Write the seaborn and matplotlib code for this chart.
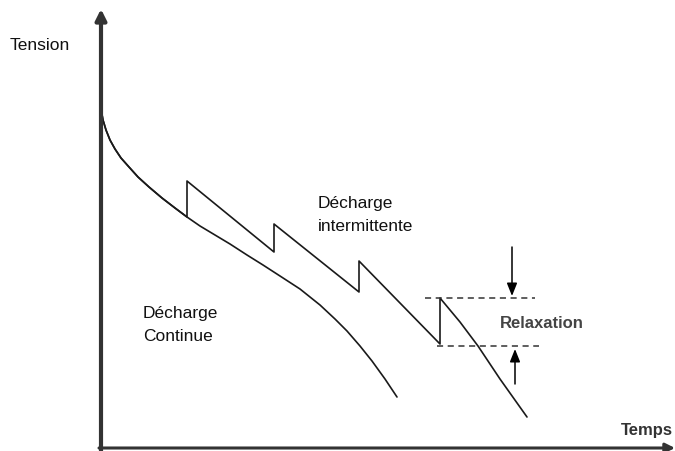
import numpy as np
import pandas as pd
import matplotlib
matplotlib.use("Agg")
import matplotlib.pyplot as plt
import seaborn as sns

# continuous discharge (time, voltage)
cont_t = [0, 2, 5, 9, 14, 20, 28, 37, 48, 61, 74, 86, 99, 114, 129, 146,
          162, 179, 199, 219, 234, 246, 259, 271, 284, 296]
cont_v = [340, 329, 319, 309, 300, 291, 282, 272, 262, 251, 241, 232, 223,
          214, 205, 194, 184, 173, 160, 144, 130, 118, 103, 88, 70, 52]

# intermittent discharge: follows the continuous curve, then saw-tooth
inter_t = [86, 173, 173, 258, 258, 339, 339, 359, 377, 399, 426]
inter_v = [268, 197, 225, 157, 188, 105, 151, 127, 103, 70, 32]

# relaxation guides
relax_levels = [151, 103]
relax_start = [324, 336]
relax_end = [434, 438]

labels = {
    "y": "Tension",
    "x": "Temps",
    "cont": "Décharge\nContinue",
    "inter": "Décharge\nintermittente",
    "relax": "Relaxation",
}

sns.set_theme(style="white")
plt.rcParams["font.family"] = ["Liberation Sans", "DejaVu Sans"]

fig = plt.figure(figsize=(6.75, 4.52), dpi=100)
ax = fig.add_axes([0, 0, 1, 1])
ax.set_xlim(-101, 574)
ax.set_ylim(-2, 450)
ax.axis("off")

n_common = cont_t.index(86) + 1
df_cont = pd.DataFrame({"t": cont_t, "v": cont_v})
df_inter = pd.DataFrame({"t": cont_t[:n_common] + inter_t,
                         "v": cont_v[:n_common] + inter_v})
sns.lineplot(data=df_cont, x="t", y="v", sort=False, estimator=None,
             color="#1a1a1a", lw=1.2, ax=ax)
sns.lineplot(data=df_inter, x="t", y="v", sort=False, estimator=None,
             color="#1a1a1a", lw=1.2, ax=ax)

for lvl, a, b in zip(relax_levels, relax_start, relax_end):
    ax.plot([a, b], [lvl, lvl], ls=(0, (4, 3)), color="#333333", lw=1.1)

# relaxation arrows
small_head = "-|>,head_width=0.22,head_length=0.55"
ax.annotate("", xy=(411, 153), xytext=(411, 202),
            arrowprops=dict(arrowstyle=small_head, color="black", lw=1.1,
                            mutation_scale=14, shrinkA=0, shrinkB=0))
ax.annotate("", xy=(414, 100), xytext=(414, 65),
            arrowprops=dict(arrowstyle=small_head, color="black", lw=1.1,
                            mutation_scale=14, shrinkA=0, shrinkB=0))

# axes with arrows
ax.annotate("", xy=(0, 440), xytext=(0, -5),
            arrowprops=dict(arrowstyle="-|>", color="#333333", lw=3,
                            mutation_scale=16, shrinkA=0, shrinkB=0))
ax.annotate("", xy=(574, 1), xytext=(-2, 1),
            arrowprops=dict(arrowstyle="-|>", color="#333333", lw=2.2,
                            mutation_scale=14, shrinkA=0, shrinkB=0))

ax.text(-91, 405, labels["y"], fontsize=12.5, va="center", ha="left", color="#111111")
ax.text(572, 19, labels["x"], fontsize=12, fontweight="bold", va="center", ha="right",
        color="#333333")
ax.text(42, 125, labels["cont"], fontsize=12.5, va="center", ha="left",
        linespacing=1.7, color="#111111")
ax.text(217, 235, labels["inter"], fontsize=12.5, va="center", ha="left",
        linespacing=1.7, color="#111111")
ax.text(399, 127, labels["relax"], fontsize=12, fontweight="bold", va="center", ha="left",
        color="#444444")

fig.savefig("out.png", dpi=100)
